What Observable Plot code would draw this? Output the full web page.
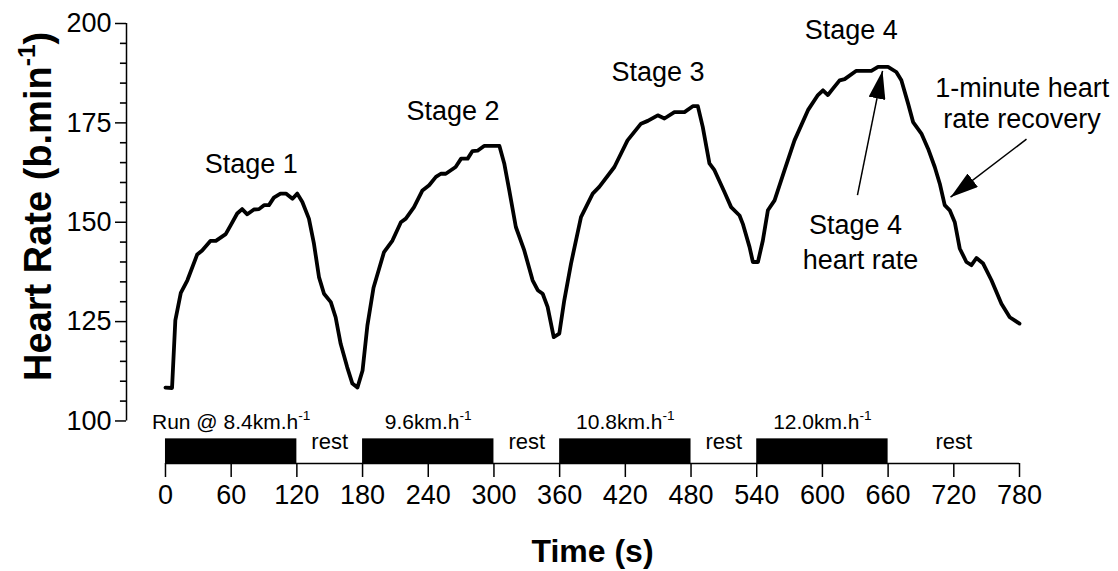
<!DOCTYPE html>
<html>
<head>
<meta charset="utf-8">
<script src="https://cdn.jsdelivr.net/npm/d3@7"></script>
<script src="https://cdn.jsdelivr.net/npm/@observablehq/plot@0.6"></script>
<style>
html, body { margin: 0; padding: 0; background: #fff; }
#chart svg { display: block; font-family: "Liberation Sans", Arial, sans-serif; }
</style>
</head>
<body>
<div id="chart"></div>
<script>
// ---- Data ----
const timeS = [0, 6, 9, 14, 20, 29, 33.5, 41, 46, 55, 59.5, 65.5, 70, 74.7, 80.8, 85.4, 90, 94.5, 99, 105, 110, 116, 120.4, 125, 131, 135.6, 140.2, 144.8, 151, 155.4, 160, 166, 170.7, 175.3, 180, 184.4, 190, 199.6, 207.3, 215, 219.5, 227, 234.7, 240.8, 247, 251.5, 256, 265, 270, 276, 280.4, 285, 291, 305, 309.4, 314, 320, 327.7, 335.3, 340, 344.5, 349, 354.6, 359.7, 364.2, 370.4, 379.5, 390.2, 396.2, 410, 422, 434.3, 440.5, 449.6, 455.7, 464.8, 474, 481.6, 486.2, 490.7, 496.8, 501.4, 510.5, 516.6, 524.3, 527.3, 533.4, 536.5, 541.1, 545.6, 550.2, 556.3, 565.4, 574.5, 586.8, 595.9, 600.5, 605, 609.6, 615.7, 620.3, 631, 644.7, 650.8, 659.9, 667.5, 672.1, 678.2, 682.8, 690.4, 696.5, 702.6, 707.2, 711.7, 716.3, 720.9, 725.4, 731.5, 736.1, 740.7, 746.8, 754.4, 763.5, 771.1, 780];
const heartRate = [108.4, 108.3, 125.3, 132.2, 135.4, 141.9, 142.9, 145.3, 145.3, 147, 149.2, 152.2, 153.3, 152, 153.2, 153.3, 154.3, 154.3, 156.2, 157.2, 157.2, 155.9, 157.2, 155.1, 150.9, 144.6, 136.2, 132, 129.9, 126.1, 119.4, 113.5, 109.4, 108.4, 112.7, 124, 133.5, 142.5, 145.4, 150, 150.9, 153.8, 158, 159.3, 161.4, 162.2, 162.2, 163.9, 166, 166, 167.9, 168, 169.2, 169.2, 164.8, 158, 148.8, 142.9, 135.4, 132.9, 132, 128.7, 121.1, 122, 130.3, 139.6, 151.3, 157.2, 158.9, 163.9, 170.6, 174.8, 175.5, 176.9, 176.1, 177.7, 177.7, 179.2, 179.2, 174, 164.8, 163.1, 157.6, 153.8, 151.7, 149.6, 143.8, 140, 140, 145.4, 153, 155.5, 163.1, 170.6, 178.2, 182, 183.2, 182, 183.6, 185.7, 186, 188.1, 188.1, 189.1, 189.1, 187.8, 185.7, 179.9, 175.2, 172.3, 168.5, 163.9, 159.7, 154.3, 153, 150, 143.4, 140, 139.2, 141, 139.6, 135.4, 129.5, 126.1, 124.5];

const xTickValues = [0, 60, 120, 180, 240, 300, 360, 420, 480, 540, 600, 660, 720, 780];
const yTickValues = [100, 125, 150, 175, 200];
const yMinorTickValues = [105, 110, 115, 120, 130, 135, 140, 145, 155, 160, 165, 170, 180, 185, 190, 195];

const runStart = [0, 180, 360, 540];
const runEnd = [120, 300, 480, 660];
const runLabels = ["Run @ 8.4km.h^-1", "9.6km.h^-1", "10.8km.h^-1", "12.0km.h^-1"];
const restStart = [120, 300, 480, 660];
const restEnd = [180, 360, 540, 780];
const stageNames = ["Stage 1", "Stage 2", "Stage 3", "Stage 4"];

// ---- Layout ----
const X0 = -35.6;      // time at the y-axis line
const YBASE = 89.3;    // heart-rate level of the time axis line
const MINOR = 6;       // minor tick length, in time units (~6.5px)
const FONT = "Liberation Sans, Arial, sans-serif";

const hrRows = timeS.map((t, i) => ({t, hr: heartRate[i]}));
const runRows = runStart.map((s, i) => ({start: s, end: runEnd[i], label: runLabels[i]}));
const restRows = restStart.map((s, i) => ({mid: (s + restEnd[i]) / 2}));
const minorRows = yMinorTickValues.map(v => ({v, a: X0 - MINOR, b: X0}));

const annotations = [
  {x: 78.4, y: 162.3, text: stageNames[0]},
  {x: 262.6, y: 175.7, text: stageNames[1]},
  {x: 449.8, y: 185.5, text: stageNames[2]},
  {x: 626.4, y: 196.2, text: stageNames[3]},
  {x: 630.2, y: 147.1, text: "Stage 4"},
  {x: 634.8, y: 138.3, text: "heart rate"},
  {x: 782.5, y: 181.5, text: "1-minute heart"},
  {x: 782.3, y: 173.6, text: "rate recovery"}
];
const arrows = [
  {x1: 632.0, y1: 156.8, x2: 654.9, y2: 188.1},
  {x1: 786.4, y1: 170.9, x2: 717.0, y2: 156.3}
];

function filledArrow(color, context) {
  const m = d3.create("svg:marker")
    .attr("viewBox", "-28 -8.5 28 17")
    .attr("markerUnits", "userSpaceOnUse")
    .attr("markerWidth", 28)
    .attr("markerHeight", 17)
    .attr("refX", 0)
    .attr("refY", 0)
    .attr("orient", "auto")
    .attr("fill", color)
    .attr("stroke", "none");
  m.append("path").attr("d", "M0,0L-28,-8.5L-28,8.5Z");
  return m.node();
}

function build(marker) {
  return Plot.plot({
    width: 1118,
    height: 571,
    marginLeft: 126,
    marginRight: 99,
    marginTop: 23,
    marginBottom: 108,
    x: {domain: [X0, 780]},
    y: {domain: [YBASE, 200]},
    style: {fontFamily: FONT, color: "#000", background: "#fff", overflow: "visible"},
    marks: [
      // y axis
      Plot.ruleX([{x: X0, y1: 100, y2: 200}], {x: "x", y1: "y1", y2: "y2", strokeWidth: 1.5}),
      Plot.link(minorRows, {x1: "a", x2: "b", y1: "v", y2: "v", stroke: "#000", strokeWidth: 1.6}),
      Plot.axisY({ticks: yTickValues, tickSize: 11, tickPadding: 4, fontSize: 27, strokeWidth: 1.5, label: null}),
      // time axis
      Plot.ruleY([{y: YBASE, x1: 0, x2: 780}], {y: "y", x1: "x1", x2: "x2", strokeWidth: 1.5}),
      Plot.axisX({ticks: xTickValues, tickSize: 14, tickPadding: 7, fontSize: 27, strokeWidth: 1.5, label: null}),
      // run bars
      Plot.rect(runRows, {x1: "start", x2: "end", y1: () => YBASE, y2: () => 95.5, fill: "#000"}),
      Plot.text(runRows, {x: d => (d.start + d.end) / 2, y: () => 98.1, text: "label", fontSize: 21, lineAnchor: "bottom"}),
      Plot.text(restRows, {x: "mid", y: () => 93.0, text: () => "rest", fontSize: 22, lineAnchor: "bottom"}),
      // heart-rate trace
      Plot.line(hrRows, {x: "t", y: "hr", stroke: "#000", strokeWidth: 3.8, strokeLinejoin: "round", strokeLinecap: "round"}),
      // annotations
      Plot.text(annotations, {x: "x", y: "y", text: "text", fontSize: 27, lineAnchor: "bottom"}),
      Plot.link(arrows, {x1: "x1", y1: "y1", x2: "x2", y2: "y2", stroke: "#000", strokeWidth: 1.5, markerEnd: marker}),
      // axis titles
      Plot.text([{x: -105, y: 154, t: "Heart Rate (b.min^-1^)"}], {x: "x", y: "y", text: "t", rotate: -90, fontSize: 38, fontWeight: "bold", lineAnchor: "bottom"}),
      Plot.text([{x: 390, y: 64.6, t: "Time (s)"}], {x: "x", y: "y", text: "t", fontSize: 32, fontWeight: "bold", lineAnchor: "bottom"})
    ]
  });
}

let chart;
try { chart = build(filledArrow); } catch (e) { chart = build("arrow"); }
document.getElementById("chart").appendChild(chart);

// superscripts: text between ^ markers is raised
chart.querySelectorAll("text, tspan").forEach(el => {
  if (el.children.length) return;
  const s = el.textContent;
  if (!s.includes("^")) return;
  const fs = parseFloat(getComputedStyle(el).fontSize) || 20;
  const parts = s.split("^");
  el.textContent = "";
  parts.forEach((p, i) => {
    if (!p) return;
    const t = document.createElementNS("http://www.w3.org/2000/svg", "tspan");
    t.textContent = p;
    if (i % 2 === 1) {
      t.setAttribute("font-size", (fs * 0.65).toFixed(1));
      t.setAttribute("dy", (-fs * 0.42).toFixed(1));
    } else if (i > 0) {
      t.setAttribute("dy", (fs * 0.42).toFixed(1));
    }
    el.appendChild(t);
  });
});
</script>
</body>
</html>
